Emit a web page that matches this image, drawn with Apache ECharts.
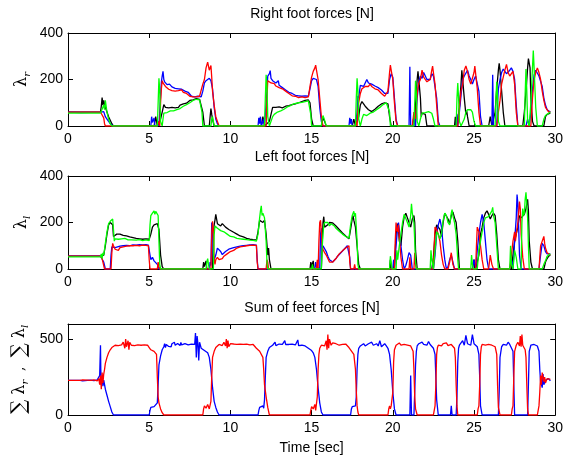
<!DOCTYPE html>
<html>
<head>
<meta charset="utf-8">
<script src="https://cdn.jsdelivr.net/npm/echarts@6/dist/echarts.min.js"></script>
<style>
  html, body { margin: 0; padding: 0; background: #fff; }
  #chart { width: 566px; height: 460px; }
</style>
</head>
<body>
<div id="chart"></div>
<script>
// time axis (sec)
const timeTicks = [0, 5, 10, 15, 20, 25, 30];
const titles = ['Right foot forces [N]', 'Left foot forces [N]', 'Sum of feet forces [N]'];

// right foot forces [t, N]
const rightBlack = [[0,60],[2.0,60],[2.05,85],[2.1,122],[2.15,90],[2.2,110],[2.3,80],[2.4,60],[2.5,40],[2.6,25],[2.7,10],[2.8,0],
  [5.3,0],[5.4,40],[5.45,20],[5.5,0],[5.6,10],[5.7,30],[5.8,60],[5.9,92],[6.0,80],[6.1,85],[6.2,78],[6.3,75],[6.4,80],[6.5,72],[6.6,78],[6.7,85],[6.8,80],[6.9,90],[7.0,85],[7.1,95],[7.2,100],[7.3,98],[7.4,105],[7.5,110],[7.6,105],[7.7,112],[7.8,115],[7.9,118],[8.0,122],[8.1,115],[8.2,120],[8.3,60],[8.4,0],[8.7,0],[8.75,40],[8.8,75],[8.85,50],[8.9,30],[9.0,0],
  [11.9,0],[12.0,40],[12.05,20],[12.1,0],[12.4,20],[12.5,50],[12.6,80],[12.7,88],[12.8,80],[12.9,75],[13.0,82],[13.1,75],[13.2,78],[13.3,82],[13.4,85],[13.5,90],[13.6,88],[13.7,95],[13.8,92],[13.9,98],[14.0,95],[14.2,100],[14.4,105],[14.6,110],[14.8,112],[14.9,100],[15.0,30],[15.1,0],[15.6,0],[15.7,35],[15.8,20],[15.9,0],
  [17.5,0],[17.6,30],[17.7,0],[17.9,40],[18.0,90],[18.1,105],[18.2,95],[18.3,85],[18.4,80],[18.5,70],[18.6,65],[18.7,62],[18.8,68],[18.9,72],[19.0,80],[19.1,85],[19.2,90],[19.3,95],[19.4,98],[19.5,100],[19.6,105],[19.7,95],[19.8,40],[19.9,0],
  [21.2,0],[21.3,40],[21.35,10],[21.4,90],[21.5,200],[21.55,235],[21.6,200],[21.7,120],[21.75,40],[21.8,55],[21.9,60],[22.0,50],[22.1,0],
  [23.8,0],[23.85,40],[23.9,0],[24.0,30],[24.1,80],[24.2,180],[24.25,240],[24.3,200],[24.4,120],[24.5,50],[24.55,65],[24.6,40],[24.7,0],
  [25.9,0],[26.0,40],[26.1,0],[26.3,60],[26.4,160],[26.5,240],[26.55,270],[26.6,240],[26.7,150],[26.8,60],[26.9,0],
  [28.0,0],[28.1,60],[28.2,150],[28.3,250],[28.35,290],[28.4,295],[28.45,250],[28.5,120],[28.6,20],[28.7,0],[29.3,0],[29.4,40],[29.5,50],[29.6,55],[29.7,55]];

const rightBlue = [[0,60],[0.8,58],[0.85,52],[0.9,60],[2.0,60],[2.1,55],[2.2,62],[2.3,40],[2.4,30],[2.5,20],[2.6,10],[2.7,3],[2.8,0],
  [5.1,0],[5.15,40],[5.2,15],[5.3,35],[5.35,0],[5.5,0],[5.55,20],[5.6,0],[5.7,130],[5.75,190],[5.8,215],[5.85,235],[5.9,200],[5.95,190],[6.0,185],[6.1,178],[6.2,170],[6.25,180],[6.3,172],[6.4,168],[6.5,170],[6.6,162],[6.7,165],[6.8,160],[6.9,163],[7.0,158],[7.1,155],[7.2,150],[7.3,155],[7.4,145],[7.5,138],[7.6,128],[7.7,130],[7.8,125],[7.9,130],[8.0,128],[8.1,130],[8.2,125],[8.3,150],[8.4,185],[8.5,195],[8.6,200],[8.7,205],[8.8,195],[8.9,160],[9.0,80],[9.1,30],[9.2,10],[9.3,0],
  [11.7,0],[11.75,35],[11.8,10],[11.85,40],[11.9,0],[12.0,0],[12.05,30],[12.1,0],[12.25,150],[12.3,215],[12.4,225],[12.45,238],[12.5,205],[12.6,195],[12.7,190],[12.8,185],[12.9,180],[12.95,195],[13.0,175],[13.1,172],[13.2,165],[13.3,160],[13.4,155],[13.5,150],[13.6,145],[13.7,142],[13.8,140],[13.9,135],[14.0,132],[14.2,130],[14.4,128],[14.6,130],[14.8,128],[14.9,160],[15.0,195],[15.1,205],[15.2,210],[15.3,200],[15.4,170],[15.5,80],[15.6,20],[15.7,0],
  [17.3,0],[17.35,35],[17.4,10],[17.45,30],[17.5,0],[17.7,0],[17.8,60],[17.85,130],[17.9,120],[17.95,150],[18.0,175],[18.1,180],[18.2,170],[18.3,185],[18.4,200],[18.5,185],[18.6,190],[18.7,180],[18.8,178],[18.9,172],[19.0,175],[19.1,165],[19.2,160],[19.3,155],[19.4,148],[19.5,140],[19.6,135],[19.7,140],[19.8,200],[19.9,225],[20.0,210],[20.1,120],[20.2,30],[20.3,0],
  [21.0,0],[21.05,255],[21.1,0],[21.3,0],[21.35,40],[21.4,0],[21.5,120],[21.6,190],[21.7,215],[21.8,205],[21.9,230],[22.0,215],[22.1,200],[22.2,195],[22.3,200],[22.4,225],[22.5,215],[22.6,210],[22.7,120],[22.8,20],[22.9,0],
  [23.9,0],[23.95,50],[24.0,0],[24.1,60],[24.2,130],[24.3,200],[24.4,215],[24.5,210],[24.6,240],[24.7,215],[24.8,200],[24.9,180],[25.0,200],[25.1,215],[25.2,210],[25.3,150],[25.4,40],[25.5,0],
  [26.1,0],[26.15,220],[26.2,0],[26.4,0],[26.45,100],[26.5,160],[26.6,200],[26.7,230],[26.8,245],[26.9,240],[27.0,225],[27.1,220],[27.2,240],[27.3,250],[27.4,235],[27.5,200],[27.6,90],[27.7,0],
  [28.2,0],[28.3,30],[28.4,0],[28.5,60],[28.6,160],[28.7,220],[28.8,240],[28.9,235],[29.0,215],[29.1,210],[29.2,170],[29.3,120],[29.4,90],[29.5,70],[29.6,65],[29.7,60]];

const rightRed = [[0,60],[0.8,60],[0.85,66],[0.9,60],[2.0,60],[2.1,62],[2.2,35],[2.25,10],[2.3,0],
  [5.5,0],[5.6,20],[5.65,0],[5.7,100],[5.75,160],[5.8,195],[5.85,185],[5.9,180],[6.0,170],[6.1,165],[6.2,158],[6.3,160],[6.4,152],[6.5,155],[6.6,150],[6.7,158],[6.8,152],[6.9,150],[7.0,155],[7.1,145],[7.2,148],[7.3,140],[7.4,132],[7.5,128],[7.6,120],[7.7,125],[7.8,118],[7.9,125],[8.0,120],[8.1,128],[8.2,130],[8.3,180],[8.4,200],[8.5,250],[8.6,275],[8.65,282],[8.7,240],[8.8,260],[8.85,210],[8.9,150],[9.0,90],[9.1,40],[9.2,20],[9.3,0],
  [12.2,0],[12.25,120],[12.3,195],[12.35,200],[12.4,190],[12.5,185],[12.6,180],[12.7,182],[12.8,172],[12.9,168],[13.0,165],[13.1,160],[13.2,160],[13.3,152],[13.4,150],[13.5,145],[13.6,140],[13.7,135],[13.8,130],[13.9,125],[14.0,128],[14.2,122],[14.4,125],[14.6,122],[14.8,125],[14.9,170],[15.0,210],[15.1,235],[15.2,250],[15.25,262],[15.3,240],[15.4,200],[15.5,120],[15.6,40],[15.7,0],
  [17.7,0],[17.75,20],[17.8,0],[17.85,70],[17.9,100],[18.0,140],[18.1,160],[18.2,155],[18.3,170],[18.4,175],[18.5,170],[18.6,180],[18.7,170],[18.8,165],[18.9,160],[19.0,165],[19.1,155],[19.2,150],[19.3,140],[19.4,132],[19.5,128],[19.6,130],[19.7,150],[19.8,230],[19.85,262],[19.9,240],[20.0,200],[20.1,100],[20.2,20],[20.3,0],
  [21.2,0],[21.3,60],[21.4,30],[21.5,140],[21.6,185],[21.7,200],[21.8,240],[21.85,248],[21.9,210],[22.0,200],[22.1,190],[22.2,195],[22.3,200],[22.4,240],[22.45,258],[22.5,230],[22.6,180],[22.7,90],[22.8,0],
  [24.0,0],[24.1,80],[24.2,150],[24.3,180],[24.4,240],[24.5,258],[24.6,235],[24.7,200],[24.8,180],[24.9,175],[25.0,230],[25.05,258],[25.1,225],[25.2,160],[25.3,60],[25.4,0],
  [26.4,0],[26.5,60],[26.6,110],[26.7,180],[26.8,210],[26.9,240],[27.0,265],[27.1,230],[27.2,215],[27.3,225],[27.4,235],[27.5,180],[27.6,60],[27.7,0],
  [28.5,0],[28.6,120],[28.7,200],[28.8,230],[28.9,250],[29.0,230],[29.1,200],[29.2,150],[29.3,110],[29.4,80],[29.5,70],[29.6,60],[29.7,62]];

const rightGreen = [[0,55],[0.8,55],[0.85,62],[0.9,55],[2.0,55],[2.1,60],[2.2,90],[2.25,70],[2.3,110],[2.35,85],[2.4,60],[2.5,30],[2.6,10],[2.7,0],
  [5.5,0],[5.55,100],[5.6,205],[5.65,150],[5.7,20],[5.8,0],[5.85,30],[5.9,55],[6.0,60],[6.1,58],[6.2,62],[6.3,65],[6.4,60],[6.5,65],[6.6,68],[6.7,70],[6.8,72],[6.9,75],[7.0,80],[7.1,85],[7.2,88],[7.3,92],[7.4,95],[7.5,100],[7.6,105],[7.7,110],[7.8,108],[7.9,115],[8.0,110],[8.1,112],[8.2,105],[8.25,60],[8.3,0],[8.8,0],[8.85,30],[8.9,40],[8.95,20],[9.0,0],
  [12.1,0],[12.15,120],[12.2,220],[12.25,170],[12.3,40],[12.4,0],[12.5,20],[12.6,40],[12.7,50],[12.8,55],[12.9,60],[13.0,58],[13.1,65],[13.2,70],[13.3,72],[13.4,78],[13.5,82],[13.6,85],[13.7,88],[13.8,92],[13.9,95],[14.0,98],[14.2,100],[14.4,102],[14.6,105],[14.8,108],[14.9,100],[14.95,50],[15.0,0],[15.6,0],[15.65,30],[15.7,45],[15.8,25],[15.9,0],
  [17.7,0],[17.75,120],[17.8,205],[17.85,150],[17.9,30],[18.0,0],[18.1,30],[18.2,50],[18.3,55],[18.4,45],[18.5,50],[18.6,55],[18.7,52],[18.8,60],[18.9,65],[19.0,70],[19.1,75],[19.2,80],[19.3,85],[19.4,92],[19.5,95],[19.6,100],[19.7,92],[19.8,60],[19.85,0],
  [21.3,0],[21.35,100],[21.4,195],[21.45,140],[21.5,20],[21.6,0],[21.7,30],[21.8,55],[21.9,60],[22.0,58],[22.1,55],[22.2,62],[22.3,60],[22.4,55],[22.5,30],[22.6,0],
  [23.9,0],[23.95,120],[24.0,185],[24.05,120],[24.1,20],[24.2,0],[24.4,30],[24.5,60],[24.6,70],[24.7,65],[24.8,70],[24.9,60],[25.0,20],[25.1,0],
  [26.3,0],[26.35,120],[26.4,190],[26.45,120],[26.5,20],[26.6,0],
  [28.1,0],[28.15,140],[28.2,245],[28.25,150],[28.3,20],[28.4,0],[28.5,100],[28.6,250],[28.65,325],[28.7,250],[28.8,80],[28.9,0],[29.2,0],[29.3,30],[29.4,45],[29.5,50],[29.6,55],[29.7,60]];

// left foot forces [t, N]
const leftBlack = [[0,55],[0.8,55],[0.85,48],[0.9,55],[2.0,55],[2.2,60],[2.3,100],[2.4,150],[2.5,190],[2.6,200],[2.7,205],[2.75,190],[2.8,140],[2.9,140],[3.0,150],[3.1,152],[3.2,150],[3.3,148],[3.4,145],[3.5,145],[3.6,142],[3.7,140],[3.8,138],[3.9,135],[4.0,135],[4.2,132],[4.4,130],[4.6,128],[4.8,130],[5.0,128],[5.1,150],[5.2,180],[5.3,190],[5.4,185],[5.5,195],[5.6,170],[5.7,60],[5.8,10],[5.9,0],
  [8.3,0],[8.35,30],[8.4,10],[8.5,35],[8.55,0],[8.9,0],[8.95,140],[9.0,190],[9.05,210],[9.1,235],[9.15,215],[9.2,195],[9.3,190],[9.4,185],[9.5,195],[9.6,190],[9.7,180],[9.8,175],[9.9,170],[10.0,165],[10.2,158],[10.4,150],[10.6,142],[10.8,138],[11.0,132],[11.2,128],[11.4,126],[11.6,125],[11.7,160],[11.8,210],[11.9,215],[12.0,200],[12.1,210],[12.2,150],[12.3,60],[12.35,90],[12.4,40],[12.5,0],
  [14.9,0],[14.95,30],[15.0,10],[15.1,35],[15.15,0],[15.6,0],[15.65,100],[15.7,200],[15.75,225],[15.8,180],[15.9,175],[16.0,190],[16.1,200],[16.2,205],[16.3,198],[16.4,195],[16.5,185],[16.6,178],[16.7,170],[16.8,162],[16.9,155],[17.0,150],[17.1,142],[17.2,135],[17.3,130],[17.4,170],[17.5,215],[17.55,230],[17.6,210],[17.7,180],[17.8,100],[17.9,20],[18.0,0],
  [19.8,0],[19.85,40],[19.9,0],[20.1,0],[20.2,150],[20.3,195],[20.35,170],[20.4,120],[20.5,100],[20.6,180],[20.7,225],[20.8,240],[20.9,220],[21.0,200],[21.1,180],[21.2,215],[21.3,230],[21.35,200],[21.4,80],[21.5,0],
  [22.4,0],[22.5,50],[22.6,150],[22.7,190],[22.8,180],[22.9,170],[23.0,140],[23.1,200],[23.2,240],[23.3,235],[23.4,215],[23.5,195],[23.6,230],[23.7,245],[23.8,220],[23.9,200],[24.0,120],[24.1,0],
  [24.9,0],[25.0,40],[25.1,0],[25.3,60],[25.4,150],[25.5,180],[25.6,220],[25.7,240],[25.8,250],[25.9,235],[26.0,215],[26.1,230],[26.2,240],[26.3,230],[26.4,150],[26.5,40],[26.6,0],
  [27.3,0],[27.4,60],[27.5,120],[27.6,150],[27.7,180],[27.8,230],[27.9,220],[28.0,225],[28.1,235],[28.2,260],[28.3,300],[28.35,250],[28.4,120],[28.5,30],[28.6,0],
  [29.3,0],[29.4,30],[29.5,45],[29.6,55],[29.7,60]];

const leftBlue = [[0,55],[0.8,55],[0.85,50],[0.9,55],[2.0,55],[2.1,50],[2.2,30],[2.3,0],[2.6,0],[2.65,60],[2.7,95],[2.8,100],[2.9,92],[3.0,95],[3.2,98],[3.4,100],[3.6,102],[3.8,100],[4.0,104],[4.2,103],[4.4,105],[4.6,104],[4.8,105],[4.95,103],[5.05,60],[5.1,40],[5.2,50],[5.3,35],[5.4,40],[5.5,20],[5.6,0],
  [8.7,0],[8.75,30],[8.8,15],[8.85,200],[8.9,170],[8.95,60],[9.0,40],[9.1,60],[9.2,90],[9.3,95],[9.4,75],[9.5,62],[9.6,65],[9.7,75],[9.8,82],[9.9,85],[10.0,88],[10.2,92],[10.4,95],[10.6,98],[10.8,100],[11.0,102],[11.2,104],[11.4,105],[11.6,103],[11.65,40],[11.7,0],
  [15.2,0],[15.25,30],[15.3,10],[15.5,0],[15.55,150],[15.6,175],[15.65,80],[15.7,100],[15.8,95],[15.9,75],[16.0,55],[16.1,40],[16.2,35],[16.3,30],[16.4,35],[16.5,45],[16.6,55],[16.7,62],[16.8,70],[16.9,78],[17.0,85],[17.1,92],[17.2,100],[17.3,105],[17.35,50],[17.4,0],
  [20.0,0],[20.05,40],[20.1,10],[20.2,100],[20.3,180],[20.35,200],[20.4,170],[20.5,100],[20.6,40],[20.7,0],[20.8,15],[20.9,40],[21.0,70],[21.1,60],[21.2,0],
  [22.5,0],[22.6,60],[22.7,150],[22.8,190],[22.9,215],[23.0,180],[23.1,100],[23.2,40],[23.3,0],[23.4,10],[23.5,40],[23.6,60],[23.7,30],[23.8,0],
  [24.9,0],[25.0,40],[25.1,0],[25.2,80],[25.3,150],[25.4,200],[25.5,235],[25.6,200],[25.7,120],[25.8,40],[25.9,0],
  [27.2,0],[27.3,40],[27.4,0],[27.5,120],[27.6,220],[27.65,320],[27.7,280],[27.75,180],[27.8,60],[27.9,0],
  [29.0,0],[29.1,60],[29.2,110],[29.3,100],[29.4,75],[29.5,65],[29.6,70],[29.7,65]];

const leftRed = [[0,55],[0.8,55],[0.85,60],[0.9,55],[2.0,55],[2.1,45],[2.2,15],[2.25,0],[2.65,0],[2.7,70],[2.75,110],[2.8,100],[2.9,85],[3.0,90],[3.1,80],[3.2,92],[3.3,88],[3.4,95],[3.5,90],[3.6,98],[3.7,95],[3.8,100],[3.9,96],[4.0,100],[4.2,102],[4.4,100],[4.6,103],[4.8,102],[4.95,100],[5.0,40],[5.05,0],[5.5,0],[5.55,30],[5.6,10],[5.65,0],
  [8.8,0],[8.85,150],[8.9,205],[8.95,160],[9.0,40],[9.05,20],[9.1,40],[9.2,50],[9.3,40],[9.4,38],[9.5,45],[9.6,55],[9.7,50],[9.8,65],[9.9,70],[10.0,75],[10.2,80],[10.3,85],[10.4,90],[10.6,95],[10.8,97],[11.0,100],[11.2,102],[11.4,103],[11.6,102],[11.65,30],[11.7,0],[12.2,0],[12.25,40],[12.3,30],[12.35,0],
  [15.3,0],[15.35,40],[15.4,0],[15.45,120],[15.5,200],[15.55,210],[15.6,160],[15.65,100],[15.7,85],[15.8,70],[15.9,60],[16.0,45],[16.1,30],[16.2,25],[16.3,30],[16.4,35],[16.5,45],[16.6,55],[16.7,65],[16.8,70],[16.9,78],[17.0,85],[17.1,90],[17.2,98],[17.3,100],[17.35,30],[17.4,0],[17.6,0],[17.65,20],[17.7,0],
  [20.1,0],[20.15,120],[20.2,200],[20.25,170],[20.3,160],[20.35,190],[20.4,140],[20.5,50],[20.6,0],[21.0,0],[21.05,50],[21.1,0],[21.3,0],[21.35,70],[21.4,20],[21.45,0],
  [22.5,0],[22.55,100],[22.6,180],[22.7,170],[22.8,150],[22.9,120],[23.0,60],[23.1,20],[23.2,0],[23.4,0],[23.5,30],[23.6,70],[23.7,20],[23.8,0],
  [25.1,0],[25.15,100],[25.2,180],[25.3,160],[25.4,100],[25.5,40],[25.6,0],[25.9,0],[26.0,60],[26.1,20],[26.2,0],
  [27.2,0],[27.3,60],[27.4,120],[27.5,160],[27.55,120],[27.6,150],[27.7,200],[27.8,290],[27.85,260],[27.9,150],[28.0,50],[28.1,0],
  [29.0,0],[29.1,100],[29.2,120],[29.3,140],[29.35,110],[29.4,90],[29.5,70],[29.6,65],[29.7,60]];

const leftGreen = [[0,52],[0.8,52],[0.85,58],[0.9,52],[2.0,52],[2.05,65],[2.1,45],[2.15,70],[2.2,60],[2.3,110],[2.4,160],[2.5,195],[2.6,205],[2.7,210],[2.75,215],[2.8,170],[2.85,120],[2.9,130],[3.0,135],[3.1,128],[3.2,132],[3.3,130],[3.4,128],[3.5,132],[3.6,128],[3.7,125],[3.8,130],[3.9,125],[4.0,128],[4.2,124],[4.4,126],[4.6,122],[4.8,125],[5.0,122],[5.05,190],[5.1,230],[5.2,240],[5.3,250],[5.35,235],[5.4,248],[5.5,252],[5.55,230],[5.6,120],[5.65,20],[5.7,0],
  [8.5,0],[8.55,30],[8.6,45],[8.65,20],[8.7,0],[8.95,0],[9.0,150],[9.05,185],[9.1,180],[9.2,175],[9.3,170],[9.4,165],[9.5,170],[9.6,160],[9.7,158],[9.8,150],[9.9,145],[10.0,140],[10.2,138],[10.4,132],[10.6,130],[10.8,128],[11.0,126],[11.2,124],[11.4,123],[11.6,120],[11.7,150],[11.8,220],[11.85,250],[11.9,272],[11.95,230],[12.0,240],[12.1,220],[12.2,120],[12.25,30],[12.3,0],
  [15.0,0],[15.05,20],[15.1,0],[15.6,0],[15.65,90],[15.7,150],[15.75,190],[15.8,200],[15.9,195],[16.0,200],[16.1,185],[16.2,195],[16.3,190],[16.4,185],[16.5,175],[16.6,170],[16.7,162],[16.8,158],[16.9,150],[17.0,145],[17.1,140],[17.2,135],[17.3,132],[17.4,190],[17.5,230],[17.6,248],[17.65,225],[17.7,240],[17.8,120],[17.85,20],[17.9,0],
  [19.8,0],[19.85,55],[19.9,30],[19.95,0],[20.2,0],[20.25,80],[20.3,40],[20.4,100],[20.5,150],[20.6,200],[20.7,235],[20.8,230],[20.9,200],[21.0,180],[21.1,230],[21.15,280],[21.2,240],[21.3,200],[21.35,120],[21.4,30],[21.45,0],
  [22.3,0],[22.35,80],[22.4,40],[22.5,0],[22.6,80],[22.7,160],[22.8,150],[22.9,130],[23.0,150],[23.1,210],[23.2,240],[23.3,230],[23.4,200],[23.5,190],[23.6,240],[23.65,255],[23.7,230],[23.8,200],[23.9,150],[24.0,40],[24.05,0],
  [24.8,0],[24.85,60],[24.9,20],[24.95,0],[25.2,0],[25.3,80],[25.4,120],[25.5,160],[25.6,200],[25.7,220],[25.8,215],[25.9,225],[26.0,220],[26.1,250],[26.15,265],[26.2,230],[26.3,200],[26.4,100],[26.5,0],
  [27.2,0],[27.25,100],[27.3,20],[27.4,0],[27.5,80],[27.6,50],[27.7,0],[27.9,0],[27.95,200],[28.0,260],[28.05,230],[28.1,240],[28.15,300],[28.2,330],[28.25,280],[28.3,220],[28.35,100],[28.4,0],
  [29.2,0],[29.3,20],[29.4,35],[29.5,55],[29.6,50],[29.7,65]];

// sums [t, N]: blue = right foot, red = left foot
const sumRight = [[0,228],[0.75,228],[0.8,215],[0.85,240],[0.9,225],[1.0,232],[1.2,228],[1.4,230],[1.6,226],[1.8,232],[1.9,220],[1.95,260],[2.0,460],[2.02,300],[2.05,200],[2.1,250],[2.15,190],[2.2,230],[2.3,170],[2.4,130],[2.5,90],[2.6,55],[2.7,20],[2.8,0],
  [5.0,0],[5.05,30],[5.1,50],[5.2,40],[5.3,55],[5.4,50],[5.5,80],[5.55,200],[5.6,330],[5.7,390],[5.8,430],[5.9,450],[5.95,470],[6.0,445],[6.05,465],[6.1,460],[6.15,475],[6.2,452],[6.3,465],[6.35,450],[6.4,470],[6.5,462],[6.55,480],[6.6,460],[6.7,455],[6.75,472],[6.8,462],[6.9,458],[6.95,478],[7.0,462],[7.1,460],[7.2,470],[7.3,458],[7.4,462],[7.5,460],[7.6,468],[7.7,455],[7.8,465],[7.85,540],[7.9,380],[7.95,520],[8.0,470],[8.05,360],[8.1,480],[8.2,440],[8.3,430],[8.4,425],[8.5,420],[8.6,410],[8.7,380],[8.8,300],[8.9,180],[9.0,90],[9.1,50],[9.2,20],[9.3,0],
  [11.7,0],[11.75,30],[11.8,50],[11.9,40],[12.0,60],[12.05,45],[12.1,100],[12.15,250],[12.2,380],[12.3,420],[12.4,445],[12.5,455],[12.6,460],[12.7,465],[12.75,480],[12.8,458],[12.9,462],[13.0,468],[13.1,455],[13.2,465],[13.3,460],[13.35,490],[13.4,465],[13.5,458],[13.6,465],[13.7,460],[13.8,468],[13.9,455],[14.0,462],[14.1,470],[14.15,495],[14.2,458],[14.3,465],[14.4,460],[14.5,470],[14.6,455],[14.7,450],[14.8,440],[14.9,430],[15.0,425],[15.1,410],[15.2,380],[15.3,300],[15.4,180],[15.5,80],[15.6,20],[15.7,0],
  [17.4,0],[17.45,40],[17.5,55],[17.6,45],[17.7,60],[17.75,120],[17.8,300],[17.85,400],[17.9,440],[18.0,455],[18.1,462],[18.2,470],[18.3,455],[18.4,465],[18.5,470],[18.6,458],[18.7,480],[18.8,460],[18.9,465],[19.0,470],[19.1,455],[19.2,490],[19.3,450],[19.4,462],[19.5,470],[19.6,455],[19.7,440],[19.8,400],[19.9,300],[20.0,150],[20.1,40],[20.2,0],
  [21.05,0],[21.1,260],[21.15,0],[21.3,0],[21.35,150],[21.4,330],[21.45,420],[21.5,455],[21.6,470],[21.7,460],[21.8,480],[21.9,465],[22.0,470],[22.1,460],[22.2,485],[22.3,465],[22.4,455],[22.5,440],[22.6,400],[22.65,250],[22.7,100],[22.8,0],
  [23.55,0],[23.6,60],[23.65,0],[23.9,0],[23.95,120],[24.0,350],[24.05,440],[24.1,460],[24.2,470],[24.3,490],[24.4,460],[24.5,525],[24.6,470],[24.7,480],[24.8,460],[24.9,530],[25.0,470],[25.1,460],[25.2,450],[25.3,400],[25.35,250],[25.4,60],[25.5,0],
  [26.5,0],[26.55,150],[26.6,380],[26.7,450],[26.8,465],[26.9,470],[27.0,460],[27.1,480],[27.2,465],[27.3,455],[27.4,420],[27.45,200],[27.5,0],
  [28.3,0],[28.35,200],[28.4,420],[28.5,460],[28.6,470],[28.7,465],[28.8,470],[28.9,455],[29.0,420],[29.05,300],[29.1,220],[29.2,180],[29.25,270],[29.3,200],[29.4,230],[29.5,220],[29.6,240],[29.7,225]];

const sumLeft = [[0,228],[0.75,228],[0.8,240],[0.85,215],[0.9,232],[1.0,225],[1.2,230],[1.4,228],[1.6,232],[1.8,225],[1.9,240],[1.95,200],[2.0,260],[2.05,170],[2.1,280],[2.15,210],[2.2,270],[2.25,300],[2.3,340],[2.4,380],[2.5,410],[2.6,430],[2.7,445],[2.8,455],[2.9,460],[3.0,465],[3.1,458],[3.2,470],[3.3,462],[3.4,480],[3.5,440],[3.55,500],[3.6,450],[3.7,490],[3.75,430],[3.8,480],[3.9,460],[4.0,470],[4.1,458],[4.2,465],[4.3,462],[4.4,468],[4.5,460],[4.6,465],[4.7,462],[4.8,468],[4.9,460],[5.0,445],[5.1,430],[5.2,425],[5.3,420],[5.4,430],[5.45,400],[5.5,250],[5.55,120],[5.6,80],[5.7,40],[5.8,15],[5.9,0],
  [8.3,0],[8.35,40],[8.4,60],[8.5,45],[8.6,70],[8.7,40],[8.8,90],[8.85,250],[8.9,380],[9.0,420],[9.1,445],[9.2,455],[9.3,465],[9.4,470],[9.5,458],[9.6,480],[9.7,455],[9.75,500],[9.8,440],[9.85,490],[9.9,450],[10.0,470],[10.1,460],[10.2,468],[10.3,462],[10.4,465],[10.5,460],[10.6,468],[10.7,462],[10.8,465],[10.9,460],[11.0,468],[11.2,462],[11.4,465],[11.5,455],[11.6,440],[11.7,430],[11.8,420],[11.9,410],[12.0,380],[12.05,300],[12.1,200],[12.2,120],[12.3,50],[12.4,0],
  [14.9,0],[14.95,30],[15.0,55],[15.1,40],[15.2,70],[15.25,30],[15.35,120],[15.4,300],[15.45,400],[15.5,440],[15.6,460],[15.7,470],[15.8,455],[15.9,490],[15.95,430],[16.0,530],[16.05,440],[16.1,500],[16.2,460],[16.3,475],[16.4,462],[16.5,470],[16.6,465],[16.7,460],[16.8,470],[16.9,465],[17.0,462],[17.1,468],[17.2,455],[17.3,445],[17.4,430],[17.5,420],[17.6,400],[17.7,300],[17.75,160],[17.8,60],[17.85,20],[17.9,0],
  [19.7,0],[19.75,40],[19.8,60],[19.85,40],[19.9,60],[20.0,150],[20.05,350],[20.1,430],[20.2,460],[20.3,470],[20.4,475],[20.5,460],[20.6,470],[20.7,465],[20.8,472],[20.9,460],[21.0,470],[21.1,455],[21.2,450],[21.25,420],[21.3,300],[21.35,120],[21.4,40],[21.5,0],
  [22.5,0],[22.55,30],[22.6,60],[22.65,200],[22.7,400],[22.75,445],[22.8,460],[22.9,470],[23.0,455],[23.1,470],[23.2,462],[23.3,475],[23.4,458],[23.5,470],[23.6,465],[23.7,460],[23.8,440],[23.85,380],[23.9,200],[23.95,60],[24.0,0],
  [25.2,0],[25.25,40],[25.3,60],[25.35,200],[25.4,400],[25.45,450],[25.5,465],[25.6,470],[25.7,460],[25.8,472],[25.9,465],[26.0,470],[26.1,460],[26.2,468],[26.3,450],[26.4,400],[26.45,200],[26.5,50],[26.6,0],
  [27.3,0],[27.35,40],[27.4,60],[27.45,250],[27.5,420],[27.6,460],[27.7,480],[27.8,455],[27.85,520],[27.9,450],[27.95,530],[28.0,460],[28.1,470],[28.15,430],[28.2,380],[28.25,200],[28.3,40],[28.35,0],
  [28.9,0],[28.95,30],[29.0,60],[29.05,150],[29.1,260],[29.15,200],[29.2,280],[29.3,220],[29.35,250],[29.4,210],[29.5,240],[29.6,230],[29.7,235]];

const font = 'Liberation Sans';
const chart = echarts.init(document.getElementById('chart'));

const grids = [
  { left: 68, right: 9, top: 33, height: 93 },
  { left: 68, right: 9, top: 176, height: 93 },
  { left: 68, right: 9, top: 324, height: 91 }
];
const yRanges = [[0, 400, 200], [0, 400, 200], [0, 600, 500]];

const nameRich = {
  g: { fontFamily: 'DejaVu Serif', fontSize: 16, color: '#000', lineHeight: 20 },
  s: { fontFamily: 'DejaVu Serif', fontSize: 20, color: '#000', lineHeight: 20 },
  c: { fontFamily: 'DejaVu Serif', fontSize: 14, color: '#000', lineHeight: 20 },
  sub: { fontFamily: 'DejaVu Serif', fontStyle: 'italic', fontSize: 10, color: '#000', verticalAlign: 'bottom', lineHeight: 20 }
};
const yNames = ['{g|λ}{sub|r}', '{g|λ}{sub|l}', '{s|∑}{g| λ}{sub|r}{c|  ,  }{s|∑}{g| λ}{sub|l}'];
const yNameGaps = [36, 36, 38];

const xAxes = [], yAxes = [];
grids.forEach(function (g, i) {
  xAxes.push({
    gridIndex: i, type: 'value', min: 0, max: 30, interval: 5,
    axisLine: { show: true, onZero: false, lineStyle: { color: '#000', width: 1 } },
    axisTick: { inside: true, length: 5, lineStyle: { color: '#000' } },
    axisLabel: { color: '#000', fontSize: 14, fontFamily: font, margin: 6 },
    splitLine: { show: false },
    name: i === 2 ? 'Time [sec]' : '', nameLocation: 'middle', nameGap: 26,
    nameTextStyle: { color: '#000', fontSize: 14, fontFamily: font }
  });
  xAxes.push({
    gridIndex: i, type: 'value', min: 0, max: 30, interval: 5, position: 'top',
    axisLine: { show: true, onZero: false, lineStyle: { color: '#000', width: 1 } },
    axisTick: { inside: true, length: 5, lineStyle: { color: '#000' } },
    axisLabel: { show: false }, splitLine: { show: false }
  });
  const r = yRanges[i];
  yAxes.push({
    gridIndex: i, type: 'value', min: r[0], max: r[1], interval: r[2],
    axisLine: { show: true, onZero: false, lineStyle: { color: '#000', width: 1 } },
    axisTick: { inside: true, length: 5, lineStyle: { color: '#000' } },
    axisLabel: { color: '#000', fontSize: 14, fontFamily: font, margin: 5, showMaxLabel: i !== 2 },
    splitLine: { show: false },
    name: yNames[i], nameLocation: 'middle', nameRotate: 90, nameGap: yNameGaps[i],
    nameMoveOverlap: false,
    nameTextStyle: { rich: nameRich }
  });
  yAxes.push({
    gridIndex: i, type: 'value', min: r[0], max: r[1], interval: r[2], position: 'right',
    axisLine: { show: true, onZero: false, lineStyle: { color: '#000', width: 1 } },
    axisTick: { inside: true, length: 5, lineStyle: { color: '#000' } },
    axisLabel: { show: false }, splitLine: { show: false }
  });
});

function line(data, color, i) {
  return {
    type: 'line', data: data, xAxisIndex: 2 * i, yAxisIndex: 2 * i,
    showSymbol: false, symbol: 'none', clip: true,
    lineStyle: { color: color, width: 1.3 }
  };
}

chart.setOption({
  animation: false,
  title: titles.map(function (t, i) {
    return {
      text: t, left: 312, top: [7, 150, 301][i], textAlign: 'center', padding: 0,
      textStyle: { color: '#000', fontSize: 14, fontWeight: 'normal', fontFamily: font }
    };
  }),
  grid: grids,
  xAxis: xAxes,
  yAxis: yAxes,
  series: [
    line(rightBlack, '#000000', 0), line(rightBlue, '#0000ff', 0), line(rightRed, '#ff0000', 0), line(rightGreen, '#00ff00', 0),
    line(leftBlack, '#000000', 1), line(leftBlue, '#0000ff', 1), line(leftRed, '#ff0000', 1), line(leftGreen, '#00ff00', 1),
    line(sumRight, '#0000ff', 2), line(sumLeft, '#ff0000', 2)
  ]
});
</script>
</body>
</html>
